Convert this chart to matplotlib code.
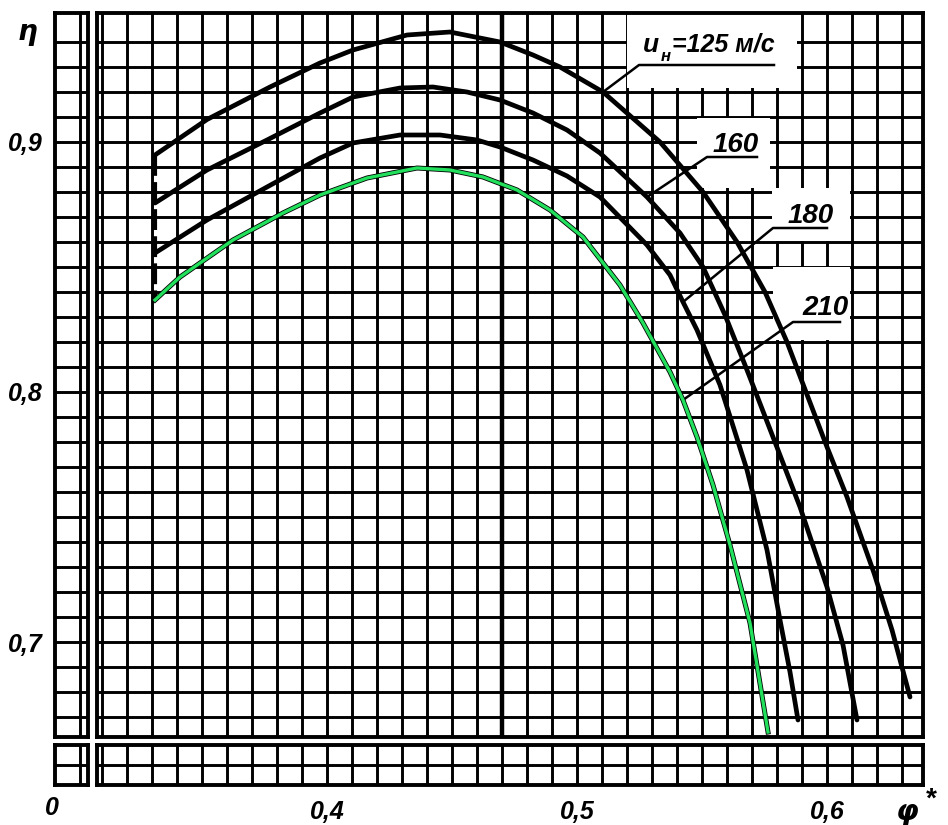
import numpy as np
import matplotlib
matplotlib.use('Agg')
import matplotlib.pyplot as plt
from matplotlib.patches import Rectangle

# КПД eta в зависимости от phi* при разных u_н
phi_125 = [0.3312, 0.3520, 0.3772, 0.3972, 0.4104, 0.4320, 0.4492, 0.4692, 0.4824, 0.4932,
           0.5104, 0.5332, 0.5504, 0.5640, 0.5752, 0.5840, 0.5916, 0.6000, 0.6080, 0.6188,
           0.6260, 0.6332]
eta_125 = [0.8948, 0.9090, 0.9220, 0.9316, 0.9368, 0.9428, 0.9440, 0.9400, 0.9348, 0.9300,
           0.9200, 0.9000, 0.8800, 0.8600, 0.8400, 0.8200, 0.8000, 0.7780, 0.7580, 0.7276,
           0.7048, 0.6780]

phi_160 = [0.3312, 0.3520, 0.3760, 0.3972, 0.4104, 0.4292, 0.4424, 0.4560, 0.4692, 0.4824,
           0.4960, 0.5092, 0.5280, 0.5412, 0.5504, 0.5592, 0.5680, 0.5784, 0.5892, 0.6000,
           0.6064, 0.6120]
eta_160 = [0.8756, 0.8888, 0.9008, 0.9116, 0.9180, 0.9216, 0.9220, 0.9200, 0.9168, 0.9116,
           0.9048, 0.8956, 0.8780, 0.8636, 0.8500, 0.8308, 0.8088, 0.7820, 0.7540, 0.7220,
           0.6988, 0.6688]

phi_180 = [0.3312, 0.3520, 0.3760, 0.3972, 0.4104, 0.4292, 0.4452, 0.4600, 0.4692, 0.4824,
           0.4960, 0.5092, 0.5280, 0.5372, 0.5424, 0.5480, 0.5572, 0.5680, 0.5760, 0.5812,
           0.5852, 0.5884]
eta_180 = [0.8556, 0.8688, 0.8820, 0.8936, 0.8996, 0.9028, 0.9028, 0.9008, 0.8980, 0.8928,
           0.8864, 0.8780, 0.8588, 0.8468, 0.8360, 0.8248, 0.8028, 0.7688, 0.7368, 0.7088,
           0.6880, 0.6688]

phi_210 = [0.3312, 0.3412, 0.3624, 0.3824, 0.3972, 0.4160, 0.4360, 0.4492, 0.4624, 0.4760,
           0.4892, 0.5024, 0.5172, 0.5264, 0.5372, 0.5424, 0.5480, 0.5544, 0.5612, 0.5692,
           0.5764]
eta_210 = [0.8368, 0.8460, 0.8608, 0.8716, 0.8788, 0.8856, 0.8896, 0.8888, 0.8860, 0.8808,
           0.8728, 0.8620, 0.8428, 0.8276, 0.8080, 0.7968, 0.7820, 0.7628, 0.7388, 0.7076,
           0.6640]

x_ticks = [0.4, 0.5, 0.6]
x_labels = ['0,4', '0,5', '0,6']
y_ticks = [0.7, 0.8, 0.9]
y_labels = ['0,7', '0,8', '0,9']

plt.rcParams['font.family'] = ['Liberation Sans Narrow', 'Liberation Sans', 'DejaVu Sans']
plt.rcParams['font.style'] = 'italic'
plt.rcParams['font.weight'] = 'bold'

W, H = 948, 825
fig = plt.figure(figsize=(W / 100, H / 100), dpi=100)


def place(x0, y0, x1, y1):
    # пиксели картинки -> доли фигуры
    return [x0 / W, 1 - y1 / H, (x1 - x0) / W, (y1 - y0) / H]


def paper(a, xl, yl, gx, gy):
    # миллиметровка
    a.set_xlim(xl)
    a.set_ylim(yl)
    a.set_xticks(gx, minor=True)
    a.set_yticks(gy, minor=True)
    a.set_xticks([])
    a.set_yticks([])
    a.grid(True, which='both', color='k', lw=2.1)
    a.tick_params(which='both', length=0)
    a.set_axisbelow(True)
    for s in a.spines.values():
        s.set_linewidth(2.8)


xlim = (0.308, 0.6384)
ylim = (0.662, 0.9516)
xlim_l = (0.0, 0.0132)
ylim_b = (0.002, 0.018)
grid_x = np.arange(0.31, 0.635, 0.01)
grid_y = np.arange(0.67, 0.945, 0.01)

ax = fig.add_axes(place(97, 13, 923, 737))
ax_l = fig.add_axes(place(55, 13, 88, 737))
ax_b = fig.add_axes(place(97, 745, 923, 785))
ax_c = fig.add_axes(place(55, 745, 88, 785))

paper(ax, xlim, ylim, grid_x, grid_y)
paper(ax_l, xlim_l, ylim, [0.01], grid_y)
paper(ax_b, xlim, ylim_b, grid_x, [0.01])
paper(ax_c, xlim_l, ylim_b, [0.01], [0.01])

ax_b.set_xticks(x_ticks)
ax_b.set_xticklabels(x_labels)
ax_b.tick_params(axis='x', which='major', pad=11, labelsize=18)
ax_l.set_yticks(y_ticks)
ax_l.set_yticklabels(y_labels)
ax_l.tick_params(axis='y', which='major', pad=9, labelsize=18)

# жирная линия сетки
ax.axvline(0.47, color='k', lw=3.2, zorder=0.6)

# белые поля под подписями
for (x0, y0, w, h) in [(0.520, 0.9216, 0.068, 0.0300),
                       (0.548, 0.8816, 0.029, 0.0280),
                       (0.578, 0.8604, 0.031, 0.0212),
                       (0.5784, 0.8208, 0.0308, 0.0292)]:
    ax.add_patch(Rectangle((x0, y0), w, h, fc='white', ec='none', zorder=1.5))

# кривые
for phi, eta in [(phi_125, eta_125), (phi_160, eta_160), (phi_180, eta_180)]:
    ax.plot(phi, eta, color='k', lw=3.4, solid_capstyle='round', zorder=3)
ax.plot(phi_210, eta_210, color='k', lw=3.6, zorder=3)
ax.plot(phi_210, eta_210, color='#22e05c', lw=2.4, zorder=3.5)

# начало кривых
ax.plot([phi_125[0], phi_210[0]], [eta_125[0], eta_210[0]], color='k', lw=3.0,
        dashes=(5, 1.5), zorder=2.5)


def label(txt, xt, yt, x0, x1, yl, phi, eta, k, size=20):
    ax.text(xt, yt, txt, fontsize=size, ha='left', va='baseline', zorder=4)
    ax.plot([phi[k], x0, x1], [eta[k], yl, yl], color='k', lw=1.8, zorder=3)


label('=125 м/с', 0.5382, 0.936, 0.5248, 0.5788, 0.9308, phi_125, eta_125, 10, size=18)
ax.text(0.5262, 0.936, 'u', fontsize=19, ha='left', va='baseline', zorder=4)
ax.text(0.5336, 0.9322, 'н', fontsize=12, ha='left', va='baseline', zorder=4)
label('160', 0.5544, 0.896, 0.552, 0.572, 0.894, phi_160, eta_160, 12)
label('180', 0.5844, 0.8676, 0.5784, 0.600, 0.8656, phi_180, eta_180, 14)
label('210', 0.590, 0.8308, 0.5864, 0.6052, 0.828, phi_210, eta_210, 15)

fig.text(27 / W, 1 - 32 / H, 'η', fontsize=20, ha='center', va='center', family='DejaVu Sans')
fig.text(907 / W, 1 - 812 / H, 'φ', fontsize=21, ha='center', va='center', family='DejaVu Sans')
fig.text(930 / W, 1 - 800 / H, '*', fontsize=20, ha='center', va='center')
fig.text(52 / W, 1 - 808 / H, '0', fontsize=18, ha='center', va='center')

fig.savefig('out.png', dpi=100)
